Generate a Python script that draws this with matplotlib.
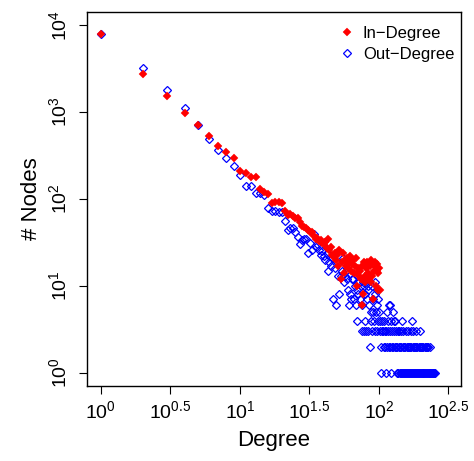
import matplotlib
matplotlib.use("Agg")
import matplotlib.pyplot as plt
from matplotlib.ticker import FixedLocator, NullLocator

plt.rcParams['font.family'] = ['Liberation Sans', 'DejaVu Sans']
plt.rcParams['mathtext.fontset'] = 'custom'
plt.rcParams['mathtext.rm'] = 'Liberation Sans'
plt.rcParams['mathtext.it'] = 'Liberation Sans:italic'
plt.rcParams['mathtext.default'] = 'regular'

# ---------------- data ----------------
# In-degree distribution (degree, number of nodes)
in_deg = [1, 2, 3, 4, 5, 6, 7, 8, 9, 10, 11, 12, 13, 14, 15, 16, 17, 18, 19, 20,
          21, 22, 23, 24, 25, 26, 27, 28, 29, 30, 31, 32, 33, 34, 35, 36, 37, 38, 39,
          40, 41, 42, 43, 44, 45, 46, 47, 48, 49, 50, 51, 52, 53, 54, 55, 56, 57, 58,
          59, 60, 61, 62, 63, 64, 65, 66, 67, 68, 69, 70, 71, 72, 73, 74, 75, 76, 77,
          78, 79, 80, 81, 82, 83, 84, 85, 86, 87, 88, 89, 90, 91, 92, 93, 94, 95, 96,
          97, 98, 99, 100, 101]
in_cnt = [7900, 2735, 1527, 966, 709, 530, 410, 344, 294, 211, 197, 181, 181, 129, 121,
          113, 89, 93, 93, 89, 72, 65, 68, 63, 60, 60, 55, 49, 48, 46, 44, 42, 42, 38, 35,
          36, 33, 34, 31, 30, 32, 27, 35, 26, 28, 23, 22, 24, 20, 23, 17, 26, 12, 19, 24,
          14, 20, 17, 21, 16, 19, 22, 15, 18, 20, 14, 17, 21, 10, 14, 16, 13, 15, 12, 6,
          17, 8, 19, 11, 13, 16, 19, 14, 17, 12, 17, 20, 11, 13, 18, 7, 15, 19, 17, 10,
          15, 18, 9, 14, 16, 9]

# Out-degree distribution: head of the distribution
out_deg_head = [1, 2, 3, 4, 5, 6, 7, 8, 9, 10, 11, 12, 13, 14, 15, 16, 17, 18, 19, 20,
                21, 22, 23, 24, 25, 26, 27, 28, 29, 30, 31, 32, 33, 34, 35, 36, 37, 38,
                39, 40, 41, 42, 43, 44, 45, 46, 48, 50, 51, 53, 54, 55, 56, 57, 58, 59,
                64, 65, 67, 72, 74, 77, 78, 81, 84, 89, 93]
out_cnt_head = [7900, 3235, 1790, 1103, 709, 490, 363, 298, 241, 189, 141, 141, 116, 116,
                111, 78, 73, 72, 70, 70, 56, 44, 46, 47, 42, 37, 30, 34, 35, 35, 24, 31,
                26, 40, 28, 30, 26, 23, 25, 22, 20, 24, 15, 19, 17, 21, 16, 19, 13, 13,
                15, 21, 11, 13, 15, 12, 12, 12, 10, 11, 10, 11, 10, 11, 10, 10, 11]
# Out-degree distribution: tail, grouped by node count
out_deg_c9 = [60, 70, 83, 97]
out_deg_c8 = [52, 62, 71, 79, 94]
out_deg_c7 = [47, 63, 66, 73, 82, 91, 99]
out_deg_c6 = [49, 61, 68, 76, 85, 96, 118, 121]
out_deg_c5 = [88, 90, 95, 100, 114, 126]
out_deg_c4 = [69, 80, 87, 92, 98, 102, 106, 109, 116, 123, 128, 131, 147, 174]
out_deg_c3 = [75, 78, 81, 84, 89, 93, 97, 101, 105, 107, 110, 113, 117, 120, 125, 129,
              133, 137, 140, 144, 150, 156, 163, 169, 177, 184, 196]
out_deg_c2 = [86, 104, 108, 111, 115, 118, 121, 124, 127, 130, 132, 135, 139, 142, 145,
              148, 152, 155, 158, 161, 164, 168, 171, 175, 178, 181, 186, 189, 193, 198,
              201, 205, 208, 213, 217, 221, 226, 233]
out_deg_c1 = [103, 112, 122, 134, 136, 138, 141, 143, 146, 149, 151, 154, 157, 159, 162,
              165, 167, 170, 173, 176, 179, 182, 185, 188, 191, 194, 197, 200, 203, 206,
              209, 212, 215, 219, 222, 225, 228, 231, 234, 237, 240, 243, 246, 249, 253]

out_deg = list(out_deg_head)
out_cnt = list(out_cnt_head)
for c, ks in [(9, out_deg_c9), (8, out_deg_c8), (7, out_deg_c7), (6, out_deg_c6),
              (5, out_deg_c5), (4, out_deg_c4), (3, out_deg_c3), (2, out_deg_c2),
              (1, out_deg_c1)]:
    out_deg += ks
    out_cnt += [c] * len(ks)

x_tick_exp = ["0", "0.5", "1", "1.5", "2", "2.5"]
y_tick_exp = ["0", "1", "2", "3", "4"]

# ---------------- figure ----------------
W, H = 474, 461
fig = plt.figure(figsize=(W / 100, H / 100), dpi=100)
L, R, B, T = 87, 461, 386, 12
ax = fig.add_axes([L / W, 1 - B / H, (R - L) / W, (B - T) / H])

ax.set_xscale('log')
ax.set_yscale('log')

ax.plot(out_deg, out_cnt, linestyle='none', marker='D', markersize=4.2,
        markerfacecolor='none', markeredgecolor='#0000FF', markeredgewidth=0.9,
        label='Out\u2212Degree', zorder=2)
ax.plot(in_deg, in_cnt, linestyle='none', marker='D', markersize=4.0,
        markerfacecolor='#FF0000', markeredgecolor='#FF0000', markeredgewidth=0.3,
        label='In\u2212Degree', zorder=3)

ax.set_xlim(10 ** -0.1, 10 ** 2.59)
ax.set_ylim(10 ** -0.15, 10 ** 4.15)

xt = [10 ** float(e) for e in x_tick_exp]
yt = [10 ** float(e) for e in y_tick_exp]
ax.xaxis.set_major_locator(FixedLocator(xt))
ax.yaxis.set_major_locator(FixedLocator(yt))
ax.xaxis.set_minor_locator(NullLocator())
ax.yaxis.set_minor_locator(NullLocator())
ax.set_xticklabels([r'$10^{%s}$' % e for e in x_tick_exp])
ax.set_yticklabels([r'$10^{%s}$' % e for e in y_tick_exp], rotation=90, va='center')
ax.tick_params(axis='both', which='major', direction='out', length=6, width=0.8,
               labelsize=14, colors='black')
ax.tick_params(axis='x', pad=4)
ax.tick_params(axis='y', pad=6)
for s in ax.spines.values():
    s.set_linewidth(1.0)

ax.set_xlabel('Degree', fontsize=16)
ax.set_ylabel('# Nodes', fontsize=16)
ax.xaxis.set_label_coords(0.5, -(440 - B) / (B - T))
ax.xaxis.label.set_va('center')
ax.yaxis.set_label_coords(-(L - 31) / (R - L), 0.5)
ax.yaxis.label.set_va('center')

handles, labels = ax.get_legend_handles_labels()
leg = ax.legend(handles[::-1], labels[::-1], loc='upper right', frameon=False,
                fontsize=12, handlelength=1.0, handletextpad=0.45, labelspacing=0.35,
                borderaxespad=0.0, bbox_to_anchor=(1.0, 1.0 - 7 / (B - T)),
                markerscale=1.0)

fig.savefig('out.png', dpi=100)
